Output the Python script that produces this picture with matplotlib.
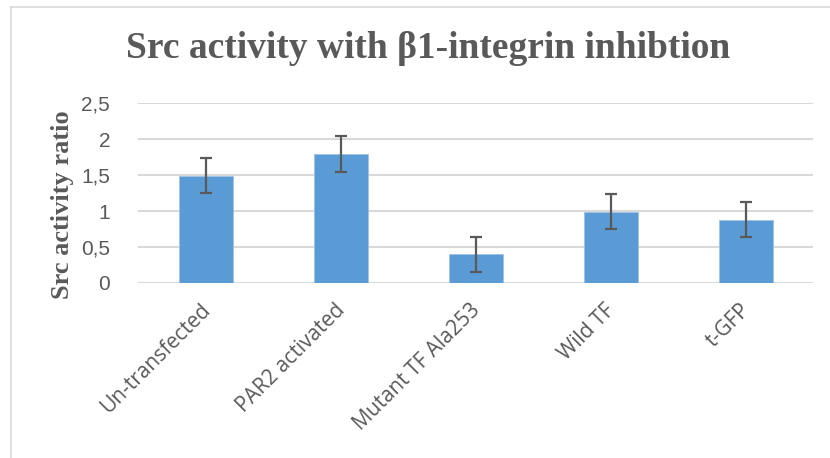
import matplotlib.pyplot as plt
import matplotlib.transforms as mtransforms
from matplotlib.lines import Line2D
from matplotlib.ticker import FuncFormatter

categories = ["Un-transfected", "PAR2 activated", "Mutant TF Ala253", "Wild TF", "t-GFP"]
values = [1.49, 1.79, 0.40, 0.99, 0.88]
errors = [0.245, 0.245, 0.245, 0.245, 0.245]
yticks = [0, 0.5, 1, 1.5, 2, 2.5]

fig = plt.figure(figsize=(8.3, 4.58), dpi=100)
ax = fig.add_axes([138 / 830, 1 - 283 / 458, 675 / 830, 180 / 458])

x = list(range(len(categories)))
ax.bar(x, values, width=0.4, color="#5B9BD5", edgecolor="#9DC3E6", linewidth=0.6, zorder=3)
ax.errorbar(x, values, yerr=errors, fmt="none", ecolor="#595959", elinewidth=1.6,
            capsize=4.5, capthick=1.6, zorder=4)

ax.set_xlim(-0.5, len(categories) - 0.5)
ax.set_ylim(0, 2.5)
ax.set_yticks(yticks)
ax.yaxis.set_major_formatter(FuncFormatter(lambda v, p: f"{v:g}".replace(".", ",")))
ax.grid(axis="y", color="#D9D9D9", linewidth=1.5, zorder=0)
for s in ax.spines.values():
    s.set_visible(False)
ax.tick_params(length=0)
ax.tick_params(axis="y", pad=20, labelsize=15, labelcolor="#595959")
for lab in ax.get_yticklabels():
    lab.set_family("Liberation Sans")

ax.set_xticks(x)
ax.set_xticklabels(categories, rotation=45, ha="right", va="top", rotation_mode="anchor",
                   fontsize=15, color="#595959", family="Open Sans")
ax.tick_params(axis="x", pad=12)
# nudge rotated labels a little to the left
shift = mtransforms.ScaledTranslation(-6 / 100, 0, fig.dpi_scale_trans)
for lab in ax.get_xticklabels():
    lab.set_transform(lab.get_transform() + shift)

fig.text(62 / 830, 1 - 205 / 458, "Src activity ratio", rotation=90, ha="center", va="center",
         fontsize=19, fontweight="bold", family="Liberation Serif", color="#595959")
fig.text(428 / 830, 1 - 48 / 458, "Src activity with β1-integrin inhibtion", ha="center", va="center",
         fontsize=27, fontweight="bold", family="Liberation Serif", color="#595959")

# chart frame (top and left edges only)
fig.add_artist(Line2D([10.5 / 830, 1], [1 - 7 / 458, 1 - 7 / 458], color="#D9D9D9", lw=1.2,
                      transform=fig.transFigure))
fig.add_artist(Line2D([10.5 / 830, 10.5 / 830], [0, 1 - 7 / 458], color="#D9D9D9", lw=1.2,
                      transform=fig.transFigure))

fig.savefig("out.png", dpi=100, facecolor="white")
